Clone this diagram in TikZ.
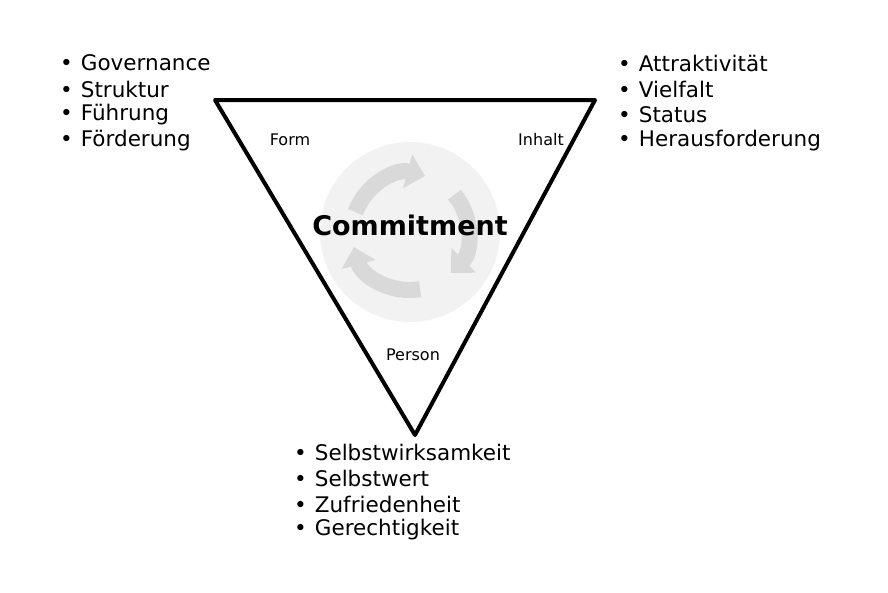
\documentclass[tikz,border=0pt]{standalone}
\usepackage{fontspec}
\setmainfont{DejaVu Sans}
\usetikzlibrary{arrows.meta}
\tikzset{
  listtext/.style={anchor=west,font=\fontsize{21.5}{24}\selectfont,inner sep=0pt},
  cornerlabel/.style={font=\fontsize{16}{18}\selectfont,inner sep=1pt},
  recyc/.style={line width=16pt,draw=gray!30,-{Triangle[length=18pt,width=34pt]}}
}
\begin{document}
\begin{tikzpicture}[x=1pt,y=-1pt]
  \useasboundingbox (0,0) rectangle (888,592);
  % background glow and recycling arrows
  \coordinate (mid) at (410,232);
  \fill[gray!10] (mid) circle (90);
  \draw[recyc] ([shift={(mid)}] 160:58pt) arc[start angle=160,end angle=75,radius=58pt];
  \draw[recyc] ([shift={(mid)}] 40:58pt) arc[start angle=40,end angle=-45,radius=58pt];
  \draw[recyc] ([shift={(mid)}] -80:58pt) arc[start angle=-80,end angle=-165,radius=58pt];
  % triangle
  \coordinate (tl) at (215,100);
  \coordinate (tr) at (595,100);
  \coordinate (bt) at (415,435);
  \draw[line width=4pt,line join=round] (tl) -- (tr) -- (bt) -- cycle;
  \node[font=\bfseries\fontsize{27}{30}\selectfont] (commit) at (410,225) {Commitment};
  \node[cornerlabel] (form) at (290,140) {Form};
  \node[cornerlabel] (inhalt) at (541,140) {Inhalt};
  \node[cornerlabel] (person) at (413,355) {Person};
  % lists
  \foreach \t [count=\i] in {Governance,Struktur,Führung,Förderung}
    \node[listtext] (l\i) at (60,63+26*\i-26) {\textbullet\hspace{8pt}\t};
  \foreach \t [count=\i] in {Attraktivität,Vielfalt,Status,Herausforderung}
    \node[listtext] (r\i) at (618,63+26*\i-26) {\textbullet\hspace{8pt}\t};
  \foreach \t [count=\i] in {Selbstwirksamkeit,Selbstwert,Zufriedenheit,Gerechtigkeit}
    \node[listtext] (b\i) at (294,452+26*\i-26) {\textbullet\hspace{8pt}\t};
\end{tikzpicture}
\end{document}
